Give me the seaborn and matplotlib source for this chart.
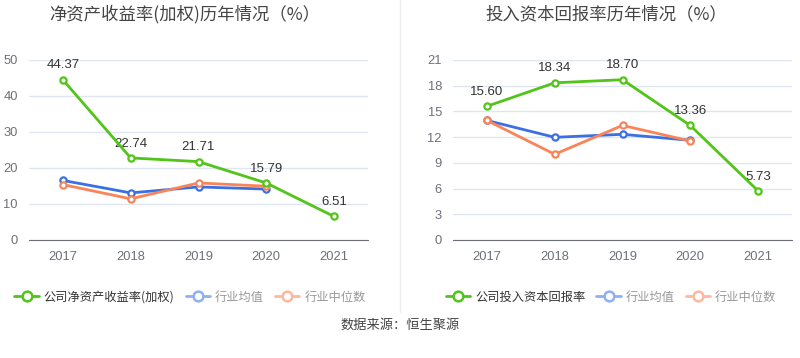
import numpy as np
import pandas as pd
import matplotlib
matplotlib.use("Agg")
import matplotlib.pyplot as plt
import seaborn as sns
from matplotlib.lines import Line2D

years = ["2017", "2018", "2019", "2020", "2021"]

roe_company = [44.37, 22.74, 21.71, 15.79, 6.51]
roe_ind_mean = [16.5, 13.05, 14.7, 14.1, np.nan]
roe_ind_median = [15.35, 11.4, 15.8, 14.9, np.nan]

roic_company = [15.60, 18.34, 18.70, 13.36, 5.73]
roic_ind_mean = [13.95, 11.98, 12.33, 11.63, np.nan]
roic_ind_median = [13.95, 10.0, 13.37, 11.55, np.nan]

GREEN = "#52c41a"
BLUE = "#3a70e3"
ORANGE = "#fa8458"
GRID = "#e0e6f1"
TICK = "#6e7079"
NUM_FONT = ["Liberation Sans", "DejaVu Sans"]

sns.set_style("white")
plt.rcParams["font.family"] = ["Noto Sans CJK SC", "DejaVu Sans"]

W, H = 800, 358
fig = plt.figure(figsize=(W / 100, H / 100), dpi=100)


def px_axes(x0, x1, ytop, ybot):
    return fig.add_axes([x0 / W, 1 - ybot / H, (x1 - x0) / W, (ybot - ytop) / H])


def draw(ax, company, mean, median, ymax, step):
    pos = np.arange(len(years))
    for vals, col, z in [(mean, BLUE, 3), (median, ORANGE, 3), (company, GREEN, 4)]:
        df = pd.DataFrame({"x": pos, "y": vals}).dropna()
        sns.lineplot(data=df, x="x", y="y", ax=ax, color=col, lw=2,
                     marker="o", markersize=4.5, markerfacecolor="white",
                     markeredgecolor=col, markeredgewidth=1.6, zorder=z)
    for x, v in zip(pos, company):
        ax.annotate(f"{v:.2f}", (x, v), xytext=(0, 6), textcoords="offset points",
                    ha="center", va="bottom", fontsize=9.5, color="#333333",
                    family=NUM_FONT)
    ax.set_xlim(-0.5, len(years) - 0.5)
    ax.set_ylim(0, ymax)
    ax.set_yticks(np.arange(0, ymax + 0.1, step))
    ax.set_xticks(pos)
    ax.set_xticklabels(years)
    ax.set_xlabel("")
    ax.set_ylabel("")
    ax.grid(axis="y", color=GRID, lw=1)
    ax.set_axisbelow(True)
    for s in ["top", "right", "left"]:
        ax.spines[s].set_visible(False)
    ax.spines["bottom"].set_color(TICK)
    ax.tick_params(axis="x", colors=TICK, labelsize=9.3, length=4, width=1, pad=4)
    ax.tick_params(axis="y", colors=TICK, labelsize=9.3, length=0, pad=8)
    for t in ax.get_xticklabels() + ax.get_yticklabels():
        t.set_family(NUM_FONT)


ax1 = px_axes(29, 368, 59.5, 240)
draw(ax1, roe_company, roe_ind_mean, roe_ind_median, 50, 10)
ax2 = px_axes(453, 792, 60, 240)
draw(ax2, roic_company, roic_ind_mean, roic_ind_median, 21, 3)

fig.text(185 / W, 1 - 14 / H, "净资产收益率(加权)历年情况（%）", ha="center", va="center",
         fontsize=12.5, color="#444444")
fig.text(606 / W, 1 - 14 / H, "投入资本回报率历年情况（%）", ha="center", va="center",
         fontsize=12.5, color="#444444")

# divider
fig.add_artist(Line2D([400 / W, 400 / W], [1 - 0 / H, 1 - 312 / H], color="#eeeeee", lw=1))


def handle(col, alpha=1.0):
    return Line2D([], [], color=col, lw=2, marker="o", markersize=7,
                  markerfacecolor="white", markeredgecolor=col, markeredgewidth=1.8,
                  alpha=alpha)


def legend(labels, cx):
    hs = [handle(GREEN), handle("#8fb0f3"), handle("#fdb8a0")]
    lg = fig.legend(hs, labels, loc="center", bbox_to_anchor=(cx / W, 1 - 297 / H),
                    ncol=3, frameon=False, fontsize=8.8, handlelength=2.0,
                    handletextpad=0.4, columnspacing=0.9)
    cols = ["#333333", "#999999", "#999999"]
    for t, c in zip(lg.get_texts(), cols):
        t.set_color(c)


legend(["公司净资产收益率(加权)", "行业均值", "行业中位数"], 190)
legend(["公司投入资本回报率", "行业均值", "行业中位数"], 611)

fig.text(400 / W, 1 - 325 / H, "数据来源：恒生聚源", ha="center", va="center",
         fontsize=9.5, color="#444444")

fig.savefig("out.png", dpi=100)
